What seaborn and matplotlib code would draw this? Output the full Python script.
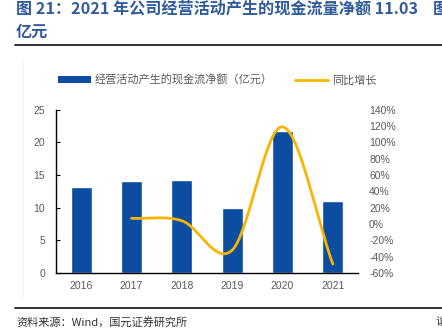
import numpy as np
import pandas as pd
import matplotlib
matplotlib.use("Agg")
import matplotlib.pyplot as plt
from matplotlib.lines import Line2D
from matplotlib.patches import Patch
import seaborn as sns

# Data
years = ["2016", "2017", "2018", "2019", "2020", "2021"]
cash_flow = [13.2, 14.05, 14.2, 9.95, 21.7, 11.03]          # 亿元
yoy_growth = [np.nan, 7.0, 4.0, -32.0, 119.0, -49.0]        # %

left_ticks = [0, 5, 10, 15, 20, 25]
right_ticks = list(range(-60, 141, 20))

BLUE = "#0c4da1"
GOLD = "#f7b500"
TITLE_BLUE = "#2f5b9b"
GRAY = "#595959"

sns.set_theme(style="white")
plt.rcParams["font.family"] = ["Liberation Sans", "Noto Sans CJK SC", "DejaVu Sans"]
CJK = ["Noto Sans CJK SC", "DejaVu Sans"]

W, H = 442, 334
fig = plt.figure(figsize=(W / 100, H / 100), dpi=100)
fig.patch.set_facecolor("white")

def fx(px):
    return px / W

def fy(py):
    return 1 - py / H

# Title and rules
fig.text(fx(16), fy(9), "图 21：2021 年公司经营活动产生的现金流量净额 11.03", family=CJK,
         fontsize=11.6, fontweight="bold", color=TITLE_BLUE, va="center", ha="left")
fig.text(fx(433), fy(9), "图", family=CJK, fontsize=11.6, fontweight="bold",
         color=TITLE_BLUE, va="center", ha="left")
fig.text(fx(16), fy(32), "亿元", family=CJK, fontsize=11.6, fontweight="bold",
         color=TITLE_BLUE, va="center", ha="left")
fig.add_artist(Line2D([fx(15), 1], [fy(45), fy(45)], color="#222222", lw=1.3))
fig.add_artist(Line2D([fx(15), 1], [fy(308), fy(308)], color="#222222", lw=1.3))
fig.add_artist(Line2D([fx(23), fx(23)], [fy(60), fy(298)], color="#f0f0f0", lw=0.6))
fig.text(fx(16), fy(322), "资料来源：Wind，国元证券研究所", family=CJK, fontsize=8,
         color="#333333", va="center", ha="left")
fig.text(fx(436), fy(322), "请", family=CJK, fontsize=8, color="#333333",
         va="center", ha="left")

# Axes
ax_left, ax_right_px, ax_top, ax_bottom = 56, 358, 109.7, 273
ax = fig.add_axes([fx(ax_left), fy(ax_bottom), fx(ax_right_px - ax_left),
                   (ax_bottom - ax_top) / H])

df = pd.DataFrame({"year": years, "cash": cash_flow})
sns.barplot(data=df, x="year", y="cash", color=BLUE, width=0.42, saturation=1,
            ax=ax, zorder=2)
ax.set_xlim(-0.5, 5.5)
ax.set_ylim(0, 25)
ax.set_yticks(left_ticks)
ax.set_xlabel("")
ax.set_ylabel("")
for s in ["top", "right"]:
    ax.spines[s].set_visible(False)
for s in ["left", "bottom"]:
    ax.spines[s].set_color("black")
    ax.spines[s].set_linewidth(1.0)
ax.tick_params(axis="y", direction="in", length=3, width=0.8, color="black",
               labelsize=7.5, labelcolor=GRAY, pad=8)
ax.tick_params(axis="x", which="major", length=0, labelsize=7.5, labelcolor=GRAY, pad=6)
ax.set_xticks(np.arange(-0.5, 6, 1.0), minor=True)
ax.tick_params(axis="x", which="minor", direction="in", length=3, width=0.8, color="black")

# Smoothed growth curve (Catmull-Rom through the yearly points)
ax2 = ax.twinx()
xs = np.arange(len(years), dtype=float)
mask = ~np.isnan(yoy_growth)
px = xs[mask]
py = np.array(yoy_growth)[mask]

def catmull_rom(x, y, n=40):
    pts = np.column_stack([x, y])
    pts = np.vstack([2 * pts[0] - pts[1], pts, 2 * pts[-1] - pts[-2]])
    out = []
    for i in range(1, len(pts) - 2):
        p0, p1, p2, p3 = pts[i - 1], pts[i], pts[i + 1], pts[i + 2]
        t = np.linspace(0, 1, n)[:, None]
        seg = 0.5 * ((2 * p1) + (-p0 + p2) * t + (2 * p0 - 5 * p1 + 4 * p2 - p3) * t ** 2
                     + (-p0 + 3 * p1 - 3 * p2 + p3) * t ** 3)
        out.append(seg if i == len(pts) - 3 else seg[:-1])
    return np.vstack(out)

curve = catmull_rom(px, py)
curve_df = pd.DataFrame({"x": curve[:, 0], "y": curve[:, 1]})
sns.lineplot(data=curve_df, x="x", y="y", color=GOLD, lw=2, sort=False, ax=ax2,
             estimator=None)
ax2.set_ylim(-60, 140)
ax2.set_yticks(right_ticks)
ax2.set_yticklabels([f"{v}%" for v in right_ticks])
ax2.set_xlabel("")
ax2.set_ylabel("")
for s in ["top", "right", "left", "bottom"]:
    ax2.spines[s].set_visible(False)
ax2.tick_params(axis="y", length=0, labelsize=7.5, labelcolor=GRAY, pad=8)
ax.set_xlim(-0.5, 5.5)

# Legend
handles = [Patch(facecolor=BLUE, edgecolor="none"),
           Line2D([0], [0], color=GOLD, lw=2)]
labels = ["经营活动产生的现金流净额（亿元）", "同比增长"]
fig.legend(handles, labels, loc="center", bbox_to_anchor=(fx(217), fy(80)), ncol=2,
           frameon=False, prop={"family": CJK, "size": 8}, labelcolor=GRAY,
           handlelength=3.0, handleheight=0.6, handletextpad=0.3, columnspacing=2.0)

fig.savefig("out.png", dpi=100, facecolor="white")
